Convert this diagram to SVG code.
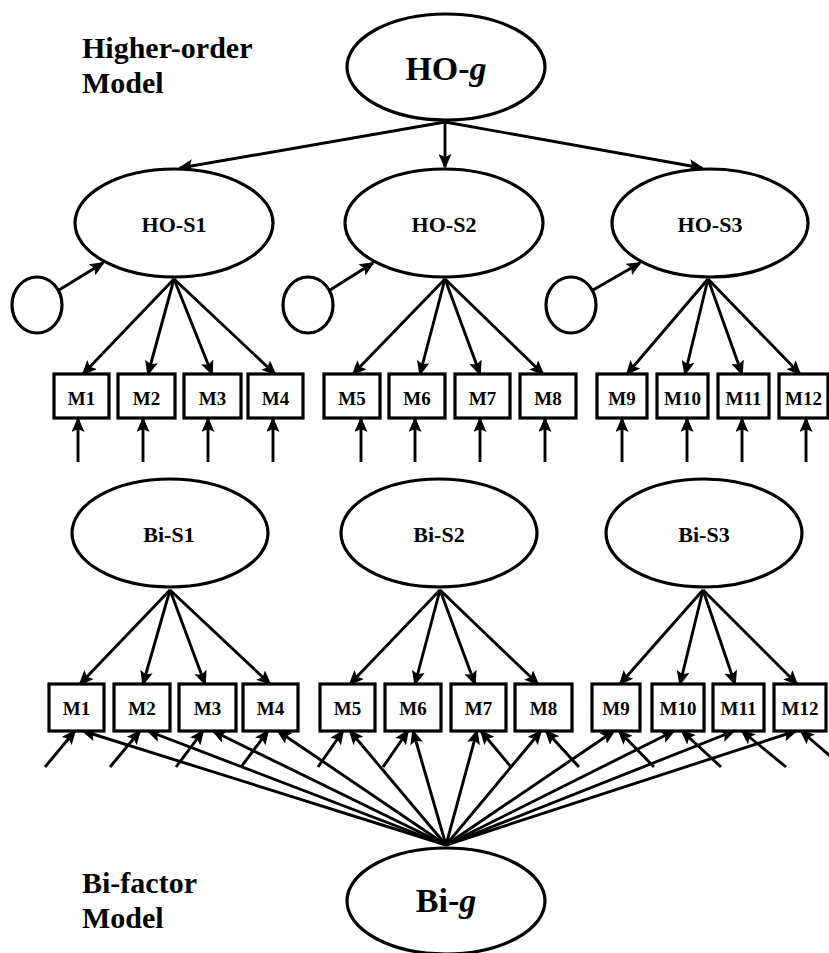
<svg xmlns="http://www.w3.org/2000/svg" width="829" height="953" viewBox="0 0 829 953">
<defs>
<marker id="ah" markerUnits="userSpaceOnUse" markerWidth="15" markerHeight="13" viewBox="0 0 15 13" refX="13" refY="6.5" orient="auto">
<path d="M0,0 L15,6.5 L0,13 L3,6.5 z" fill="#000"/>
</marker>
</defs>
<style>
.e{fill:#fff;stroke:#000;stroke-width:3.2}
.b{fill:#fff;stroke:#000;stroke-width:3.2}
.t{font-family:"Liberation Serif","Times New Roman",serif;font-weight:bold;fill:#000;text-anchor:middle}
.lab{font-family:"Liberation Serif","Times New Roman",serif;font-weight:bold;font-size:30px;fill:#000}
.m{font-size:19px}
.s{font-size:22px}
.g{font-size:34px}
.c line{stroke:#000;stroke-width:2.9;marker-end:url(#ah)}
</style>
<rect width="829" height="953" fill="#fff"/>
<g id="labels">
<text class="lab" x="82" y="58">Higher-order</text>
<text class="lab" x="82" y="93">Model</text>
<text class="lab" x="82" y="893">Bi-factor</text>
<text class="lab" x="82" y="928">Model</text>
</g>
<g class="c" id="connectors">
<line x1="445" y1="122" x2="180" y2="168"/>
<line x1="445" y1="122" x2="445" y2="167"/>
<line x1="445" y1="122" x2="702" y2="168"/>
<line x1="59" y1="290" x2="103" y2="263"/>
<line x1="330" y1="290" x2="373" y2="263"/>
<line x1="593" y1="290" x2="640" y2="263"/>
<line x1="174" y1="279" x2="83" y2="374"/>
<line x1="174" y1="279" x2="148" y2="374"/>
<line x1="174" y1="279" x2="212" y2="374"/>
<line x1="174" y1="279" x2="275" y2="374"/>
<line x1="445" y1="279" x2="353" y2="374"/>
<line x1="445" y1="279" x2="420" y2="374"/>
<line x1="445" y1="279" x2="480" y2="374"/>
<line x1="445" y1="279" x2="543" y2="374"/>
<line x1="708" y1="279" x2="627" y2="374"/>
<line x1="708" y1="279" x2="685" y2="374"/>
<line x1="708" y1="279" x2="742" y2="374"/>
<line x1="708" y1="279" x2="800" y2="374"/>
<line x1="78" y1="462" x2="78" y2="419"/>
<line x1="143" y1="462" x2="143" y2="419"/>
<line x1="208" y1="462" x2="208" y2="419"/>
<line x1="273" y1="462" x2="273" y2="419"/>
<line x1="361" y1="462" x2="361" y2="419"/>
<line x1="415" y1="462" x2="415" y2="419"/>
<line x1="480" y1="462" x2="480" y2="419"/>
<line x1="545" y1="462" x2="545" y2="419"/>
<line x1="622" y1="462" x2="622" y2="419"/>
<line x1="687" y1="462" x2="687" y2="419"/>
<line x1="742" y1="462" x2="742" y2="419"/>
<line x1="806" y1="462" x2="806" y2="419"/>
<line x1="170" y1="590" x2="80" y2="684"/>
<line x1="170" y1="590" x2="143" y2="684"/>
<line x1="170" y1="590" x2="205" y2="684"/>
<line x1="170" y1="590" x2="270" y2="684"/>
<line x1="440" y1="590" x2="350" y2="684"/>
<line x1="440" y1="590" x2="415" y2="684"/>
<line x1="440" y1="590" x2="475" y2="684"/>
<line x1="440" y1="590" x2="538" y2="684"/>
<line x1="703" y1="590" x2="620" y2="684"/>
<line x1="703" y1="590" x2="680" y2="684"/>
<line x1="703" y1="590" x2="735" y2="684"/>
<line x1="703" y1="590" x2="797" y2="684"/>
<line x1="446" y1="845" x2="83" y2="731"/>
<line x1="446" y1="845" x2="148" y2="731"/>
<line x1="446" y1="845" x2="213" y2="731"/>
<line x1="446" y1="845" x2="278" y2="731"/>
<line x1="446" y1="845" x2="350" y2="731"/>
<line x1="446" y1="845" x2="413" y2="731"/>
<line x1="446" y1="845" x2="477" y2="731"/>
<line x1="446" y1="845" x2="541" y2="731"/>
<line x1="446" y1="845" x2="614" y2="731"/>
<line x1="446" y1="845" x2="674" y2="731"/>
<line x1="446" y1="845" x2="734" y2="731"/>
<line x1="446" y1="845" x2="796" y2="731"/>
<line x1="45" y1="767" x2="75" y2="731"/>
<line x1="110" y1="767" x2="140" y2="731"/>
<line x1="176" y1="767" x2="203" y2="731"/>
<line x1="241" y1="767" x2="268" y2="731"/>
<line x1="318" y1="767" x2="343" y2="731"/>
<line x1="383" y1="767" x2="408" y2="731"/>
<line x1="511" y1="767" x2="481" y2="731"/>
<line x1="579" y1="767" x2="546" y2="731"/>
<line x1="654" y1="767" x2="619" y2="731"/>
<line x1="721" y1="767" x2="682" y2="731"/>
<line x1="786" y1="767" x2="742" y2="731"/>
<line x1="843" y1="767" x2="801" y2="731"/>
</g>
<g id="HO-g"><ellipse class="e" cx="446" cy="67" rx="99" ry="53"/><text class="t g" x="446" y="80">HO-<tspan font-style="italic">g</tspan></text></g>
<g id="HO-S1"><ellipse class="e" cx="174" cy="223" rx="99" ry="54"/><text class="t s" x="174" y="232">HO-S1</text></g>
<g id="HO-S2"><ellipse class="e" cx="444" cy="223" rx="99" ry="54"/><text class="t s" x="444" y="232">HO-S2</text></g>
<g id="HO-S3"><ellipse class="e" cx="710" cy="223" rx="98" ry="54"/><text class="t s" x="710" y="232">HO-S3</text></g>
<g id="err1"><ellipse class="e" cx="37" cy="305" rx="25" ry="28"/></g>
<g id="err2"><ellipse class="e" cx="308" cy="305" rx="25" ry="28"/></g>
<g id="err3"><ellipse class="e" cx="571" cy="305" rx="25" ry="28"/></g>
<g id="HO-M1"><rect class="b" x="54" y="374" width="55" height="44"/><text class="t m" x="81.5" y="405">M1</text></g>
<g id="HO-M2"><rect class="b" x="118" y="374" width="57" height="44"/><text class="t m" x="146.5" y="405">M2</text></g>
<g id="HO-M3"><rect class="b" x="184" y="374" width="57" height="44"/><text class="t m" x="212.5" y="405">M3</text></g>
<g id="HO-M4"><rect class="b" x="248" y="374" width="55" height="44"/><text class="t m" x="275.5" y="405">M4</text></g>
<g id="HO-M5"><rect class="b" x="324" y="374" width="56" height="44"/><text class="t m" x="352" y="405">M5</text></g>
<g id="HO-M6"><rect class="b" x="389" y="374" width="56" height="44"/><text class="t m" x="417" y="405">M6</text></g>
<g id="HO-M7"><rect class="b" x="455" y="374" width="55" height="44"/><text class="t m" x="482.5" y="405">M7</text></g>
<g id="HO-M8"><rect class="b" x="520" y="374" width="56" height="44"/><text class="t m" x="548" y="405">M8</text></g>
<g id="HO-M9"><rect class="b" x="597" y="374" width="50" height="44"/><text class="t m" x="622" y="405">M9</text></g>
<g id="HO-M10"><rect class="b" x="657" y="374" width="51" height="44"/><text class="t m" x="682.5" y="405">M10</text></g>
<g id="HO-M11"><rect class="b" x="718" y="374" width="51" height="44"/><text class="t m" x="743.5" y="405">M11</text></g>
<g id="HO-M12"><rect class="b" x="779" y="374" width="49" height="44"/><text class="t m" x="803.5" y="405">M12</text></g>
<g id="Bi-S1"><ellipse class="e" cx="170" cy="533" rx="98" ry="54"/><text class="t s" x="169" y="542">Bi-S1</text></g>
<g id="Bi-S2"><ellipse class="e" cx="439" cy="533" rx="98" ry="54"/><text class="t s" x="439" y="542">Bi-S2</text></g>
<g id="Bi-S3"><ellipse class="e" cx="704" cy="533" rx="98" ry="54"/><text class="t s" x="704" y="542">Bi-S3</text></g>
<g id="Bi-M1"><rect class="b" x="49" y="684" width="55" height="47"/><text class="t m" x="76.5" y="715">M1</text></g>
<g id="Bi-M2"><rect class="b" x="114" y="684" width="56" height="47"/><text class="t m" x="142" y="715">M2</text></g>
<g id="Bi-M3"><rect class="b" x="179" y="684" width="57" height="47"/><text class="t m" x="207.5" y="715">M3</text></g>
<g id="Bi-M4"><rect class="b" x="243" y="684" width="55" height="47"/><text class="t m" x="270.5" y="715">M4</text></g>
<g id="Bi-M5"><rect class="b" x="320" y="684" width="55" height="47"/><text class="t m" x="347.5" y="715">M5</text></g>
<g id="Bi-M6"><rect class="b" x="385" y="684" width="56" height="47"/><text class="t m" x="413" y="715">M6</text></g>
<g id="Bi-M7"><rect class="b" x="451" y="684" width="55" height="47"/><text class="t m" x="478.5" y="715">M7</text></g>
<g id="Bi-M8"><rect class="b" x="515" y="684" width="57" height="47"/><text class="t m" x="543.5" y="715">M8</text></g>
<g id="Bi-M9"><rect class="b" x="592" y="684" width="48" height="47"/><text class="t m" x="616" y="715">M9</text></g>
<g id="Bi-M10"><rect class="b" x="652" y="684" width="52" height="47"/><text class="t m" x="678" y="715">M10</text></g>
<g id="Bi-M11"><rect class="b" x="713" y="684" width="51" height="47"/><text class="t m" x="738.5" y="715">M11</text></g>
<g id="Bi-M12"><rect class="b" x="774" y="684" width="52" height="47"/><text class="t m" x="800" y="715">M12</text></g>
<g id="Bi-g"><ellipse class="e" cx="446" cy="901" rx="99" ry="53"/><text class="t g" x="446" y="912">Bi-<tspan font-style="italic">g</tspan></text></g>
</svg>
